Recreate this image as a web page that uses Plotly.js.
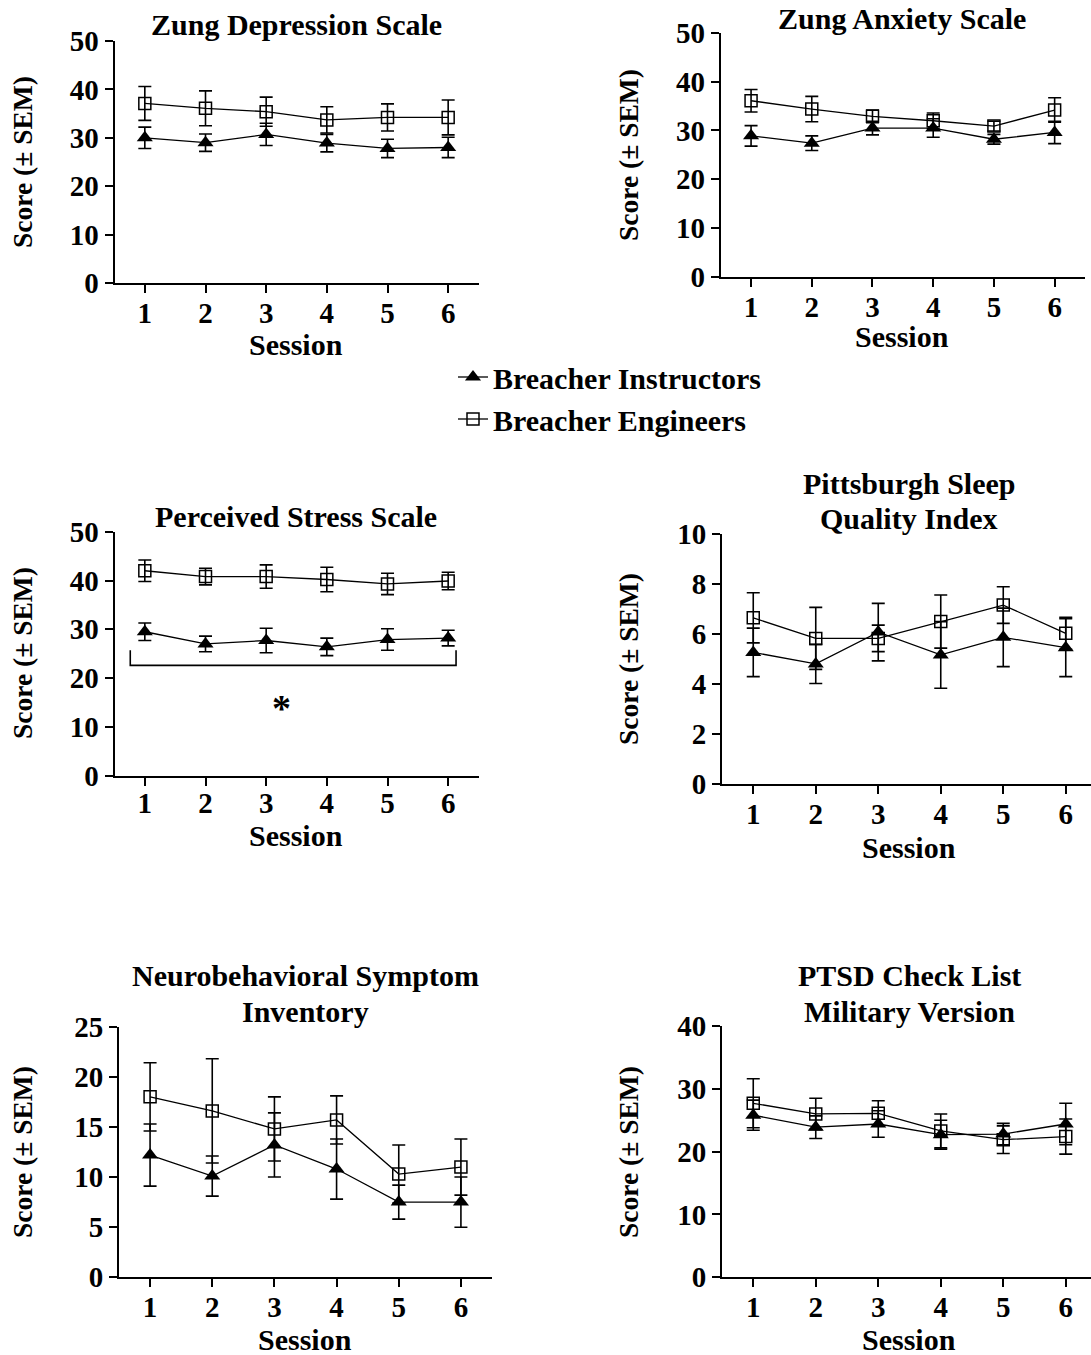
<!DOCTYPE html>
<html>
<head>
<meta charset="utf-8">
<script src="https://cdn.plot.ly/plotly-3.0.1.min.js"></script>
<style>html,body{margin:0;padding:0;background:#fff;}#chart{width:1091px;height:1355px;}</style>
</head>
<body>
<div id="chart"></div>
<script>
// ---- Data ----
const sessions = [1, 2, 3, 4, 5, 6];
const sessionTicks = ['1', '2', '3', '4', '5', '6'];
const seriesNames = ['Breacher Instructors', 'Breacher Engineers'];
const panelTitles = [
  ['Zung Depression Scale'],
  ['Zung Anxiety Scale'],
  ['Perceived Stress Scale'],
  ['Pittsburgh Sleep', 'Quality Index'],
  ['Neurobehavioral Symptom', 'Inventory'],
  ['PTSD Check List', 'Military Version']
];

const zungDepInstr = [30.0, 29.0, 30.7, 28.9, 27.8, 28.0];
const zungDepInstrErr = [2.2, 1.8, 2.3, 1.8, 1.9, 2.1];
const zungDepEng = [37.1, 36.1, 35.4, 33.7, 34.2, 34.2];
const zungDepEngErr = [3.5, 3.6, 3.0, 2.7, 2.8, 3.6];

const zungAnxInstr = [28.9, 27.4, 30.5, 30.5, 28.2, 29.6];
const zungAnxInstrErr = [2.1, 1.5, 1.4, 1.9, 1.0, 2.3];
const zungAnxEng = [36.1, 34.4, 32.9, 32.0, 30.9, 34.2];
const zungAnxEngErr = [2.3, 2.6, 1.3, 1.6, 1.0, 2.5];

const pssInstr = [29.5, 27.0, 27.7, 26.4, 27.9, 28.2];
const pssInstrErr = [1.8, 1.6, 2.5, 1.8, 2.2, 1.6];
const pssEng = [42.0, 40.8, 40.8, 40.2, 39.3, 39.9];
const pssEngErr = [2.2, 1.7, 2.4, 2.5, 2.2, 1.8];

const psqiInstr = [5.27, 4.81, 6.08, 5.17, 5.87, 5.46];
const psqiInstrErr = [0.97, 0.78, 1.15, 1.33, 1.17, 1.16];
const psqiEng = [6.65, 5.83, 5.83, 6.50, 7.16, 6.03];
const psqiEngErr = [1.0, 1.24, 0.53, 1.06, 0.73, 0.64];

const nsiInstr = [12.2, 10.1, 13.2, 10.8, 7.5, 7.5];
const nsiInstrErr = [3.1, 2.0, 3.2, 3.0, 1.7, 2.5];
const nsiEng = [18.0, 16.6, 14.8, 15.7, 10.3, 11.0];
const nsiEngErr = [3.4, 5.2, 3.2, 2.4, 2.9, 2.8];

const pclInstr = [25.8, 23.9, 24.4, 22.7, 22.8, 24.4];
const pclInstrErr = [2.4, 1.8, 2.1, 2.3, 1.7, 3.3];
const pclEng = [27.7, 26.0, 26.1, 23.3, 21.9, 22.4];
const pclEngErr = [3.9, 2.5, 2.0, 2.7, 2.2, 2.8];

// significance bracket in Perceived Stress panel
const bracketX = [0.76, 0.76, 6.13, 6.13];
const bracketY = [25.7, 22.6, 22.6, 25.7];
const starPos = [3.26, 13.9];

// ---- Build ----
const W = 1091, H = 1355;
const FONT = 'Liberation Serif, Times New Roman, serif';
const fBold = (s) => ({family: FONT, size: s, color: '#000', weight: 'bold'});

const panels = [
  {inst: zungDepInstr, instE: zungDepInstrErr, eng: zungDepEng, engE: zungDepEngErr,
   px: [114.5, 478.5], py: [41, 283], xr: [0.5, 6.5], yr: [0, 50], dt: 10, so: -5},
  {inst: zungAnxInstr, instE: zungAnxInstrErr, eng: zungAnxEng, engE: zungAnxEngErr,
   px: [720.7, 1085], py: [33, 276.7], xr: [0.5, 6.5], yr: [0, 50], dt: 10, so: -5},
  {inst: pssInstr, instE: pssInstrErr, eng: pssEng, engE: pssEngErr,
   px: [114.5, 478.5], py: [531.7, 775.7], xr: [0.5, 6.5], yr: [0, 50], dt: 10, so: -8},
  {inst: psqiInstr, instE: psqiInstrErr, eng: psqiEng, engE: psqiEngErr,
   px: [722, 1091], py: [534, 784.3], xr: [0.5, 6.404], yr: [0, 10], dt: 2, so: -5},
  {inst: nsiInstr, instE: nsiInstrErr, eng: nsiEng, engE: nsiEngErr,
   px: [119, 492], py: [1026.7, 1277.3], xr: [0.5, 6.5], yr: [0, 25], dt: 5, so: -5},
  {inst: pclInstr, instE: pclInstrErr, eng: pclEng, engE: pclEngErr,
   px: [722, 1091], py: [1026, 1277.3], xr: [0.5, 6.404], yr: [0, 40], dt: 10, so: -5}
];

// centre of first title line; further lines 36px below
const titlePos = [[296, 25], [902, 18], [296, 517], [909, 483], [305, 975], [909, 975]];
const sessionPos = [[296, 344], [902, 337], [296, 835], [909, 847], [305, 1339], [909, 1339]];
const scorePos = [[22, 162], [628, 155], [22, 653], [628, 659], [22, 1152], [628, 1152]];

const traces = [];
const layout = {
  width: W, height: H,
  margin: {l: 0, r: 0, t: 0, b: 0},
  paper_bgcolor: '#fff', plot_bgcolor: '#fff',
  font: {family: FONT, color: '#000'},
  showlegend: true,
  legend: {x: 453 / W, y: 1 - 377 / H, xanchor: 'left', yanchor: 'middle',
           font: fBold(30), bgcolor: 'rgba(0,0,0,0)', borderwidth: 0},
  legend2: {x: 453 / W, y: 1 - 419 / H, xanchor: 'left', yanchor: 'middle',
           font: fBold(30), bgcolor: 'rgba(0,0,0,0)', borderwidth: 0},
  annotations: [],
  shapes: []
};

panels.forEach((p, i) => {
  const n = i + 1;
  const xa = 'x' + (n === 1 ? '' : n), ya = 'y' + (n === 1 ? '' : n);
  const xk = 'xaxis' + (n === 1 ? '' : n), yk = 'yaxis' + (n === 1 ? '' : n);
  layout[xk] = {
    domain: [p.px[0] / W, p.px[1] / W], range: p.xr, anchor: ya,
    tickmode: 'array', tickvals: sessions, ticktext: sessionTicks,
    showline: true, linecolor: '#000', linewidth: 2, mirror: false,
    ticks: 'outside', ticklen: 8, tickwidth: 2, tickcolor: '#000',
    ticklabelstandoff: p.so,
    showgrid: false, zeroline: false, tickfont: fBold(29), fixedrange: true
  };
  layout[yk] = {
    domain: [1 - p.py[1] / H, 1 - p.py[0] / H], range: p.yr, anchor: xa,
    dtick: p.dt, tick0: 0,
    showline: true, linecolor: '#000', linewidth: 2,
    ticks: 'outside', ticklen: 8, tickwidth: 2, tickcolor: '#000',
    showgrid: false, zeroline: false, tickfont: fBold(29), fixedrange: true
  };
  const common = {x: sessions, xaxis: xa, yaxis: ya, mode: 'lines+markers', cliponaxis: false};
  traces.push(Object.assign({}, common, {
    y: p.eng, name: seriesNames[1], showlegend: i === 0, legend: 'legend2',
    line: {color: '#000', width: 1.3},
    marker: {symbol: 'square-open', size: 12, color: '#000', line: {width: 1.5, color: '#000'}},
    error_y: {type: 'data', array: p.engE, visible: true, color: '#000', thickness: 1.6, width: 6.5}
  }));
  traces.push(Object.assign({}, common, {
    y: p.inst, name: seriesNames[0], showlegend: i === 0, legend: 'legend',
    line: {color: '#000', width: 1.3},
    marker: {symbol: 'triangle-up', size: 14, color: '#000'},
    error_y: {type: 'data', array: p.instE, visible: true, color: '#000', thickness: 1.6, width: 6.5}
  }));

  panelTitles[i].forEach((line, k) => {
    layout.annotations.push({
      xref: 'paper', yref: 'paper', x: titlePos[i][0] / W, y: 1 - (titlePos[i][1] + 36 * k) / H,
      xanchor: 'center', yanchor: 'middle', text: line, showarrow: false,
      font: fBold(30), align: 'center'
    });
  });
  layout.annotations.push({
    xref: 'paper', yref: 'paper', x: sessionPos[i][0] / W, y: 1 - sessionPos[i][1] / H,
    xanchor: 'center', yanchor: 'middle', text: 'Session', showarrow: false, font: fBold(30)
  });
  layout.annotations.push({
    xref: 'paper', yref: 'paper', x: scorePos[i][0] / W, y: 1 - scorePos[i][1] / H,
    xanchor: 'center', yanchor: 'middle', text: 'Score (± SEM)', showarrow: false,
    textangle: -90, font: fBold(27.5)
  });
});

// bracket and asterisk in panel 3
traces.push({x: bracketX, y: bracketY, xaxis: 'x3', yaxis: 'y3', mode: 'lines',
  line: {color: '#000', width: 1.6}, showlegend: false, hoverinfo: 'skip', cliponaxis: false});
layout.annotations.push({xref: 'x3', yref: 'y3', x: starPos[0], y: starPos[1],
  text: '*', showarrow: false, font: fBold(38), xanchor: 'center', yanchor: 'middle'});

Plotly.newPlot('chart', traces, layout, {staticPlot: true, displayModeBar: false});
</script>
</body>
</html>
